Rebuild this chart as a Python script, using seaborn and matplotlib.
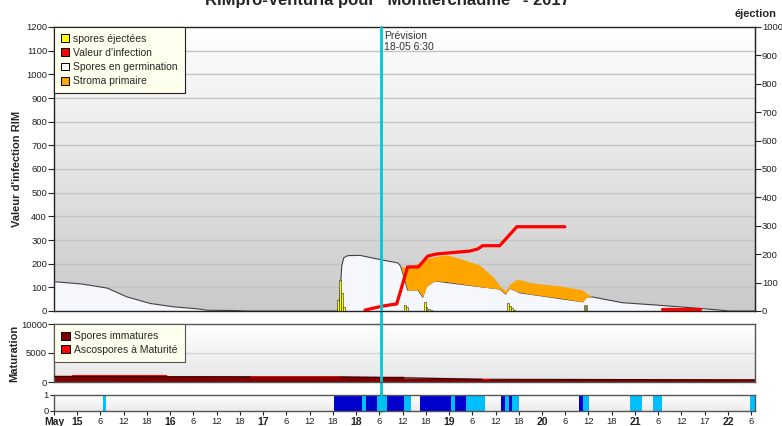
import numpy as np
import pandas as pd
import matplotlib
matplotlib.use("Agg")
import matplotlib.pyplot as plt
from matplotlib.patches import Patch
from matplotlib.lines import Line2D
import seaborn as sns

# hours counted from 15 May 00:00
germ_h = [-6, 1.2, 7.7, 12.8, 18.8, 24.7, 31.7, 33.5, 41.2, 43.3, 67.3, 67.8, 68.3, 68.8,
          69.9, 73.0, 78.9, 82.8, 83.5, 84.6, 85.3, 88.0, 89.2, 90.2, 92.3, 103.9, 109.1,
          110.6, 111.7, 114.3, 130.5, 131.5, 133.1, 140.8, 149.6, 159.9, 166.6, 168.4, 175]
germ_v = [124, 114, 97, 60, 32, 18, 8, 3, 2, 0, 0, 60, 190, 225,
          234, 235, 215, 203, 190, 130, 89, 89, 59, 105, 127, 103, 93,
          72, 97, 77, 39, 60, 59, 35, 25, 12, 3, 0, 0]

stroma_h = [83.5, 84.6, 85.3, 88.0, 89.2, 90.2, 92.3, 95.4, 98.8, 103.9, 107.3, 109.1,
            110.6, 111.7, 113.5, 117.6, 124.6, 130.5, 131.5, 133.1]
stroma_top = [190, 185, 188, 200, 210, 220, 230, 237, 222, 194, 145, 106,
              85, 112, 135, 118, 106, 89, 75, 59]
stroma_base = [190, 130, 89, 89, 59, 105, 127, 124, 116, 103, 96, 93,
               72, 97, 82, 70, 55, 39, 60, 59]

infect_h = [74.3, 78.9, 82.5, 85.3, 88.1, 90.5, 92.8, 101.3, 103.4, 104.7, 109.1, 113.5, 125.9]
infect_v = [4, 21, 30, 186, 186, 232, 241, 253, 262, 276, 276, 356, 356]
infect2_h = [150.9, 160.7]
infect2_v = [7, 7]

spore_h = [67.3, 67.8, 68.3, 68.8, 84.6, 85.1, 89.7, 90.2, 90.8, 91.5,
           111.2, 111.7, 112.2, 112.7, 131.0, 131.5]
spore_v = [40, 110, 62, 15, 21, 14, 33, 14, 7, 4, 29, 17, 10, 3, 22, 20]

matur_h = [-6, 23.2, 23.2, 67.8, 67.8, 84.1, 84.1, 104.5, 104.5, 175]
immat_v = [950, 950, 900, 900, 880, 880, 560, 560, 380, 380]
mature_h = [-1.35, 23.2, 44.6, 67.8, 104.5, 106.5]
mature_base = [950, 900, 900, 880, 380, 380]
mature_v = [180, 0, 180, 0, 150, 0]

wet_start = [6.6, 66.3, 73.4, 74.5, 77.3, 79.9, 84.3, 88.4, 96.5, 97.5, 100.5, 109.4, 110.4,
             111.4, 112.2, 129.5, 130.5, 142.6, 148.6, 173.6]
wet_end = [7.4, 73.4, 74.5, 77.3, 79.9, 84.3, 86.1, 96.5, 97.5, 100.5, 105.2, 110.4, 111.4,
           112.2, 114.0, 130.5, 132.1, 145.7, 151.1, 175]
wet_kind = ["light", "dark", "light", "dark", "light", "dark", "light", "dark", "light", "dark",
            "light", "dark", "light", "dark", "light", "dark", "light", "light", "light", "light"]

tick_h = list(range(-6, 175, 6))
tick_lab = ["May", "15", "6", "12", "18", "16", "6", "12", "18", "17", "6", "12", "18", "18",
            "6", "12", "18", "19", "6", "12", "18", "20", "6", "12", "18", "21", "6", "12",
            "17", "22", "6"]

prevision_h = 78.5

sns.set_style("white")
plt.rcParams['font.family'] = ['Liberation Sans', 'DejaVu Sans']

W, H = 782, 426
fig = plt.figure(figsize=(W / 100, H / 100), dpi=100)


def px_axes(left, top, right, bottom):
    return fig.add_axes([left / W, 1 - bottom / H, (right - left) / W, (bottom - top) / H])


def gradient(ax, c_top, c_bot):
    g = np.linspace(0, 1, 256).reshape(-1, 1)
    cols = np.array(c_top)[None, None, :] * (1 - g[..., None]) + np.array(c_bot)[None, None, :] * g[..., None]
    ax.imshow(cols, extent=[0, 1, 0, 1], transform=ax.transAxes, aspect='auto', zorder=0)


ax = px_axes(54, 27, 755, 311)
ax2 = px_axes(54, 324, 755, 382)
ax3 = px_axes(54, 395, 755, 411)

tick_kw = dict(labelsize=6.8, length=4, width=0.8, direction='out', pad=1, colors='#222222')

# ---- main panel
gradient(ax, (1, 1, 1), (0.79, 0.79, 0.79))
for v in range(100, 1200, 100):
    ax.axhline(v, color='#c4c4c4', lw=1, zorder=1)

ax.fill_between(germ_h, 0, germ_v, color='#f6f7fd', zorder=2)
sns.lineplot(x=germ_h, y=germ_v, ax=ax, color='#404040', lw=0.8, zorder=3, sort=False)
ax.fill_between(stroma_h, stroma_base, stroma_top, color='#ffa500', lw=0, zorder=3)
ax.bar(spore_h, [v * 1.2 for v in spore_v], width=0.45, color='#ffff00', edgecolor='#222222',
       lw=0.4, zorder=4)
sns.lineplot(x=infect_h, y=infect_v, ax=ax, color='#ff0000', lw=2.3, zorder=5, sort=False)
sns.lineplot(x=infect2_h, y=infect2_v, ax=ax, color='#ff0000', lw=2.3, zorder=5, sort=False)

ax.set_xlim(-6, 175)
ax.set_ylim(0, 1200)
ax.set_yticks(range(0, 1201, 100))
ax.set_xticks([])
ax.tick_params(axis='y', left=True, **tick_kw)
ax.set_ylabel("Valeur d'infection RIM", fontsize=8, fontweight='bold')
ax.yaxis.set_label_coords(-0.046, 0.5)
for s in ax.spines.values():
    s.set_color('#222222')
    s.set_linewidth(1)

sec = ax.secondary_yaxis('right', functions=(lambda v: v / 1.2, lambda v: v * 1.2))
sec.set_yticks(range(0, 1001, 100))
sec.tick_params(**tick_kw)
sec.spines['right'].set_color('#222222')
fig.text(777 / W, 1 - 14 / H, "éjection", ha='right', va='center', fontsize=8, fontweight='bold')

handles = [Patch(facecolor='#ffff00', edgecolor='black', lw=0.7, label='spores éjectées'),
           Patch(facecolor='#ff0000', edgecolor='black', lw=0.7, label="Valeur d'infection"),
           Patch(facecolor='#f8f8ff', edgecolor='black', lw=0.7, label='Spores en germination'),
           Patch(facecolor='#ffa500', edgecolor='black', lw=0.7, label='Stroma primaire')]
leg = ax.legend(handles=handles, loc='upper left', borderaxespad=0, fontsize=7.5, frameon=True,
                fancybox=False, handlelength=0.8, handleheight=0.8, handletextpad=0.4,
                labelspacing=0.4, borderpad=0.65, facecolor='#ffffee', edgecolor='#222222',
                framealpha=1)
leg.get_frame().set_linewidth(0.8)
leg.set_zorder(10)

ax.axvline(prevision_h, color='#00c8d8', lw=2, zorder=6)
ax.text(prevision_h + 0.8, 1185, "Prévision\n18-05 6:30", fontsize=7.5, va='top', ha='left',
        color='#333333', linespacing=1.2, zorder=7)

# ---- maturation panel
gradient(ax2, (1, 1, 1), (0.90, 0.90, 0.90))
ax2.axhline(5000, color='#d4d4d4', lw=1, zorder=1)
ax2.fill_between(matur_h, 0, immat_v, color='#800000', zorder=2)
sns.lineplot(x=matur_h, y=immat_v, ax=ax2, color='#3a0000', lw=0.8, zorder=3, sort=False)
ax2.fill_between(mature_h, mature_base, [b + m for b, m in zip(mature_base, mature_v)],
                 step='post', color='#ff0000', lw=0, zorder=3)
ax2.set_xlim(-6, 175)
ax2.set_ylim(0, 10000)
ax2.set_yticks([0, 5000, 10000])
ax2.set_xticks([])
ax2.tick_params(axis='y', left=True, **tick_kw)
ax2.set_ylabel("Maturation", fontsize=8, fontweight='bold')
ax2.yaxis.set_label_coords(-0.049, 0.5)
for s in ax2.spines.values():
    s.set_color('#555555')
    s.set_linewidth(1)
handles2 = [Patch(facecolor='#800000', edgecolor='black', lw=0.7, label='Spores immatures'),
            Patch(facecolor='#ff0000', edgecolor='black', lw=0.7, label='Ascospores à Maturité')]
leg2 = ax2.legend(handles=handles2, loc='upper left', borderaxespad=0, fontsize=7.5, frameon=True,
                  fancybox=False, handlelength=0.8, handleheight=0.8, handletextpad=0.4,
                  labelspacing=0.35, borderpad=0.7, facecolor='#ffffee', edgecolor='#555555',
                  framealpha=1)
leg2.get_frame().set_linewidth(0.8)
leg2.set_zorder(10)
ax2.axvline(prevision_h, color='#00c8d8', lw=2, zorder=6)

# ---- wetness panel
gradient(ax3, (1, 1, 1), (0.92, 0.92, 0.92))
wet = pd.DataFrame({"start": wet_start, "end": wet_end, "kind": wet_kind})
colors = {"dark": '#0000cc', "light": '#00bfff'}
for _, r in wet.iterrows():
    ax3.axvspan(r["start"], r["end"], color=colors[r["kind"]], lw=0, zorder=2)
ax3.axvline(prevision_h, color='#00c8d8', lw=2, zorder=6)
ax3.set_xlim(-6, 175)
ax3.set_ylim(0, 1)
ax3.set_yticks([0, 1])
ax3.set_xticks(tick_h)
ax3.set_xticklabels(tick_lab)
ax3.tick_params(axis='both', left=True, bottom=True, **{**tick_kw, 'length': 3})
for t, h in zip(ax3.get_xticklabels(), tick_h):
    if h % 24 == 0 or h == -6:
        t.set_fontweight('bold')
        t.set_fontsize(7.5)
for s in ax3.spines.values():
    s.set_color('#555555')
    s.set_linewidth(1)

# prevision line through the gaps
xp = (54 + (prevision_h + 6) / 181 * 701) / W
fig.add_artist(Line2D([xp, xp], [1 - 411 / H, 1 - 27 / H], color='#00c8d8', lw=2,
                      transform=fig.transFigure, zorder=0))

fig.text(0.495, 1 - 5 / H, 'RIMpro-Venturia pour "Montierchaume" - 2017', ha='center',
         va='baseline', fontsize=12, fontweight='bold')

fig.savefig("out.png", dpi=100)
